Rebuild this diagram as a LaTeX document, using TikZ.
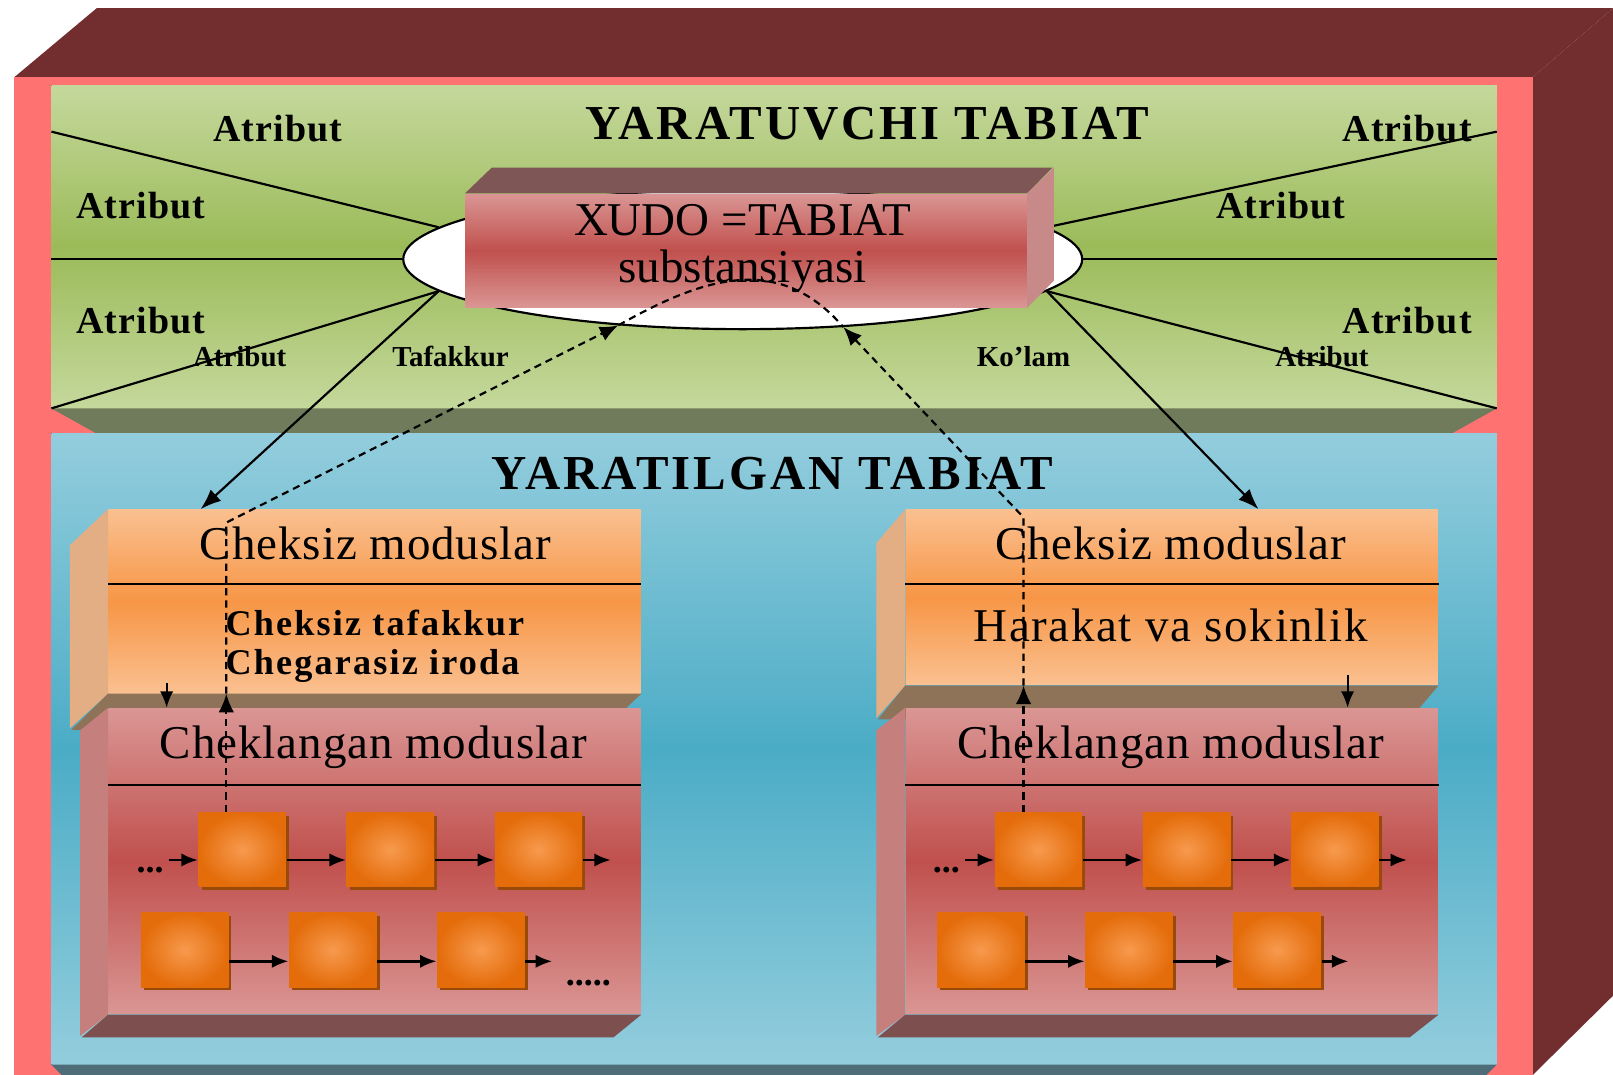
\documentclass[tikz,border=0pt]{standalone}
\usepackage{fontspec}
\setmainfont{Liberation Serif}
\usetikzlibrary{arrows.meta,shapes.geometric,shadows,shadings}

\definecolor{outerdark}{HTML}{722E2E}
\definecolor{outerfront}{HTML}{FF7272}
\definecolor{greenlight}{HTML}{C5D89C}
\definecolor{greendark}{HTML}{9BBB59}
\definecolor{greenbevel}{HTML}{6F7B5A}
\definecolor{bluelight}{HTML}{93CDDD}
\definecolor{bluedark}{HTML}{4BACC6}
\definecolor{bluebevel}{HTML}{4F6D79}
\definecolor{redlight}{HTML}{DA9694}
\definecolor{reddark}{HTML}{C0504D}
\definecolor{redtop}{HTML}{7F5656}
\definecolor{redside}{HTML}{C88A88}
\definecolor{clside}{HTML}{C5807E}
\definecolor{clbottom}{HTML}{7E4F4F}
\definecolor{orlight}{HTML}{FAC090}
\definecolor{ordark}{HTML}{F79646}
\definecolor{orside}{HTML}{E3AE84}
\definecolor{orbottom}{HTML}{8E7358}
\definecolor{sqlight}{HTML}{F79A4E}
\definecolor{sqdark}{HTML}{E46C0A}
\definecolor{sqshadow}{HTML}{9A4A08}

\begin{document}
\begin{tikzpicture}[x=0.1mm,y=-0.1mm,
  attrline/.style={line width=0.6pt},
  sepline/.style={line width=0.45pt},
  conn/.style={line width=0.6pt,-{Latex[length=2mm,width=1.5mm]}},
  smallconn/.style={line width=0.6pt,-{Latex[length=1.6mm,width=1.3mm]}},
  dashconn/.style={line width=0.6pt,dash pattern=on 2pt off 1.4pt},
  dashtip/.style={dashconn,-{Latex[length=1.8mm,width=1.5mm]}},
  rowarrow/.style={line width=0.7pt,-{Latex[length=1.6mm,width=1.3mm]}},
  heading/.style={font=\fontsize{13.5}{15}\selectfont\bfseries\addfontfeatures{LetterSpace=6}},
  attrbig/.style={font=\fontsize{10.5}{12}\selectfont\bfseries\addfontfeatures{LetterSpace=3}},
  attrsmall/.style={font=\fontsize{8}{10}\selectfont\bfseries},
  boxtext/.style={font=\fontsize{13}{15}\selectfont\addfontfeatures{LetterSpace=2}},
  widetext/.style={font=\fontsize{13}{15}\selectfont\addfontfeatures{LetterSpace=3.5}},
  xudotext/.style={font=\fontsize{13}{13}\selectfont,inner sep=0.5pt,align=center},
  innertext/.style={font=\fontsize{10}{10.8}\selectfont\bfseries\addfontfeatures{LetterSpace=6}},
  dots/.style={font=\fontsize{10}{12}\selectfont\bfseries,inner sep=0},
  face/.style={rectangle,inner sep=0,anchor=north west},
  sq/.style={rectangle,minimum width=8.5mm,minimum height=7.2mm,inner sep=0,
    inner color=sqlight,outer color=sqdark,
    drop shadow={shadow xshift=0.3mm,shadow yshift=-0.3mm,fill=sqshadow,opacity=1}}
]
\useasboundingbox (0,0) rectangle (1568,1045);

% outer box
\fill[outerdark] (14,75) -- (94,8) -- (1568,8) -- (1490,75) -- cycle;
\fill[outerdark] (1490,75) -- (1568,8) -- (1568,968) -- (1490,1045) -- cycle;
\fill[outerfront] (14,75) rectangle (1490,1045);

% upper and lower panels
\fill[top color=greenlight,bottom color=greenlight,middle color=greendark] (50,83) rectangle (1455,397);
\fill[greenbevel] (50,397) -- (1455,397) -- (1412,421) -- (93,421) -- cycle;
\fill[top color=bluelight,bottom color=bluelight,middle color=bluedark] (50,421) rectangle (1455,1035);
\fill[bluebevel] (50,1035) -- (1455,1035) -- (1445,1045) -- (60,1045) -- cycle;

% substance
\node[ellipse,draw,line width=0.6pt,fill=white,minimum width=66mm,minimum height=13.6mm,inner sep=0] (subst) at (722,252) {};

\coordinate (e1) at (50,128);
\coordinate (e2) at (50,252);
\coordinate (e3) at (50,397);
\coordinate (e4) at (1455,128);
\coordinate (e5) at (1455,252);
\coordinate (e6) at (1455,397);
\draw[attrline] (subst.174) -- (e1);
\draw[attrline] (subst.180) -- (e2);
\draw[attrline] (subst.186) -- (e3);
\draw[attrline] (subst.6) -- (e4);
\draw[attrline] (subst.0) -- (e5);
\draw[attrline] (subst.354) -- (e6);

\node[face,minimum width=54.5mm,minimum height=11mm,top color=redlight,bottom color=redlight,middle color=reddark] (xudo) at (452,188) {};
\fill[redtop] (xudo.north west) -- ++(26,-25) -- ++(545,0) -- (xudo.north east) -- cycle;
\fill[redside] (xudo.north east) -- ++(26,-25) -- ++(0,110) -- (xudo.south east) -- cycle;
\node[xudotext] (xudotxt) at (722,242) {XUDO =TABIAT\\substansiyasi};

\node[heading] (hup) at (843,120) {YARATUVCHI TABIAT};
\node[heading] (hdown) at (751,460) {YARATILGAN TABIAT};

\node[attrbig] (a1) at (270,125) {Atribut};
\node[attrbig] (a2) at (137,200) {Atribut};
\node[attrbig] (a3) at (137,312) {Atribut};
\node[attrsmall] (a4) at (233,347) {Atribut};
\node[attrbig] (a5) at (1368,125) {Atribut};
\node[attrbig] (a6) at (1245,200) {Atribut};
\node[attrbig] (a7) at (1368,312) {Atribut};
\node[attrsmall] (a8) at (1285,347) {Atribut};
\node[attrsmall] (taf) at (438,347) {Tafakkur};
\node[attrsmall] (kol) at (995,347) {Ko’lam};

% left column
\node[face,minimum width=51.7mm,minimum height=17.8mm,top color=orlight,bottom color=orlight,middle color=ordark] (chL) at (105,495) {};
\fill[orside] (chL.north west) -- ++(-37,35) -- ++(0,178) -- (chL.south west) -- cycle;
\fill[orbottom] (chL.south west) -- (chL.south east) -- ++(-37,35) -- ++(-517,0) -- cycle;
\draw[sepline] ([yshift=-7.3mm]chL.north west) -- ([yshift=-7.3mm]chL.north east);
\node[face,minimum width=51.7mm,minimum height=29.7mm,top color=redlight,bottom color=redlight,middle color=reddark] (clL) at (105,688) {};
\fill[clside] (clL.north west) -- ++(-27,22) -- ++(0,297) -- (clL.south west) -- cycle;
\fill[clbottom] (clL.south west) -- (clL.south east) -- ++(-27,22) -- ++(-517,0) -- cycle;
\draw[sepline] ([yshift=-7.5mm]clL.north west) -- ([yshift=-7.5mm]clL.north east);
\node[boxtext] (chLt) at (365,528) {Cheksiz moduslar};
\node[innertext,align=left,anchor=west] (chLa) at (207,628) {Cheksiz tafakkur\\Chegarasiz iroda};
\node[boxtext] (clLt) at (363,726) {Cheklangan moduslar};

% right column
\node[face,minimum width=51.7mm,minimum height=17mm,top color=orlight,bottom color=orlight,middle color=ordark] (chR) at (880,495) {};
\fill[orside] (chR.north west) -- ++(-28,33) -- ++(0,170) -- (chR.south west) -- cycle;
\fill[orbottom] (chR.south west) -- (chR.south east) -- ++(-28,33) -- ++(-517,0) -- cycle;
\draw[sepline] ([yshift=-7.3mm]chR.north west) -- ([yshift=-7.3mm]chR.north east);
\node[face,minimum width=51.7mm,minimum height=29.7mm,top color=redlight,bottom color=redlight,middle color=reddark] (clR) at (880,688) {};
\fill[clside] (clR.north west) -- ++(-28,22) -- ++(0,297) -- (clR.south west) -- cycle;
\fill[clbottom] (clR.south west) -- (clR.south east) -- ++(-28,22) -- ++(-517,0) -- cycle;
\draw[sepline] ([yshift=-7.5mm]clR.north west) -- ([yshift=-7.5mm]clR.north east);
\node[boxtext] (chRt) at (1138,528) {Cheksiz moduslar};
\node[widetext] (chRa) at (1138,608) {Harakat va sokinlik};
\node[boxtext] (clRt) at (1138,726) {Cheklangan moduslar};

% finite modes
\foreach \s/\dx in {L/0,R/774}{
  \foreach \i in {0,1,2}{
    \node[sq] (sq\s-a\i) at ({235.5+\dx+144*\i},826) {};
    \node[sq] (sq\s-b\i) at ({179.5+\dx+144*\i},923.5) {};
  }
  \coordinate (in\s) at ([xshift=-2.8mm,yshift=-1mm]sq\s-a0.west);
  \coordinate (outa\s) at ([xshift=2.7mm,yshift=-1mm]sq\s-a2.east);
  \coordinate (outb\s) at ([xshift=2.6mm,yshift=-1.1mm]sq\s-b2.east);
  \draw[rowarrow] (in\s) -- ([yshift=-1mm]sq\s-a0.west);
  \draw[rowarrow] ([yshift=-1mm]sq\s-a0.east) -- ([yshift=-1mm]sq\s-a1.west);
  \draw[rowarrow] ([yshift=-1mm]sq\s-a1.east) -- ([yshift=-1mm]sq\s-a2.west);
  \draw[rowarrow] ([yshift=-1mm]sq\s-a2.east) -- (outa\s);
  \draw[rowarrow] ([yshift=-1.1mm]sq\s-b0.east) -- ([yshift=-1.1mm]sq\s-b1.west);
  \draw[rowarrow] ([yshift=-1.1mm]sq\s-b1.east) -- ([yshift=-1.1mm]sq\s-b2.west);
  \draw[rowarrow] ([yshift=-1.1mm]sq\s-b2.east) -- (outb\s);
}
\node[dots] (dotsL) at (146,846) {...};
\node[dots] (dotsR) at (920,846) {...};
\node[dots] (dotsLb) at (572,956) {.....};

% connectors
\coordinate (tgtL) at ([xshift=9mm]chL.north west);
\coordinate (tgtR) at ([xshift=-17.5mm]chR.north east);
\draw[conn] (subst.186) -- (tgtL);
\draw[conn] (subst.354) -- (tgtR);

\draw[smallconn] ([xshift=5.7mm,yshift=1mm]chL.south west) -- ([xshift=5.7mm]clL.north west);
\draw[smallconn] ([xshift=43mm,yshift=1mm]chR.south west) -- ([xshift=43mm]clR.north west);

\coordinate (upL) at ([xshift=11.5mm]chL.south west);
\coordinate (bendL) at ([xshift=11.5mm,yshift=-1.3mm]chL.north west);
\coordinate (upR) at ([xshift=11.5mm]chR.south west);
\coordinate (bendR) at ([xshift=11.5mm,yshift=-0.8mm]chR.north west);
\draw[dashtip] (sqL-a0.north -| upL) -- (upL);
\draw[dashtip] (upL) -- (bendL) -- (subst.208);
\draw[dashtip] (sqR-a0.north -| upR) -- (upR);
\draw[dashtip] (upR) -- (bendR) -- (subst.326);
\draw[dashconn] (subst.208) .. controls (683,270) and (757,245) .. (subst.326);
\end{tikzpicture}
\end{document}
